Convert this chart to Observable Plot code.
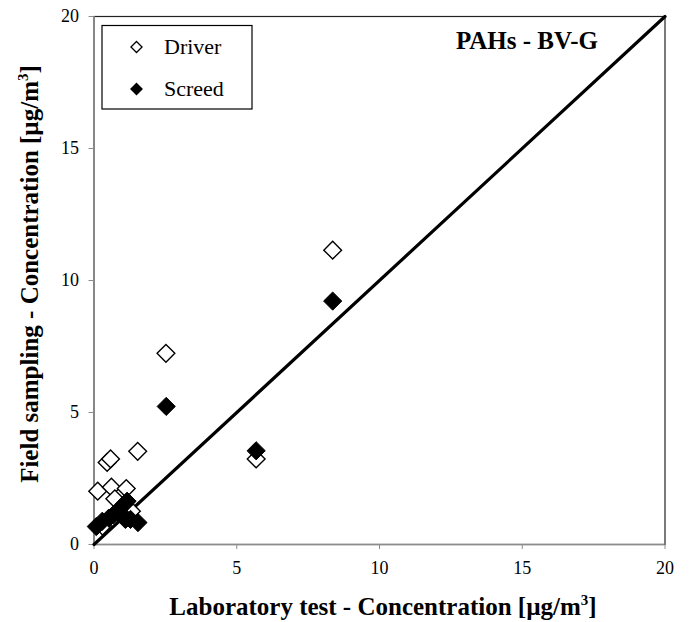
<!DOCTYPE html>
<html>
<head>
<meta charset="utf-8">
<script src="https://cdn.jsdelivr.net/npm/d3@7"></script>
<script src="https://cdn.jsdelivr.net/npm/@observablehq/plot@0.6"></script>
<style>
  body { margin: 0; background: #fff; }
  #chart { width: 690px; height: 622px; }
  svg text { font-family: "Liberation Serif", "Times New Roman", serif !important; }
</style>
</head>
<body>
<div id="chart"></div>
<script>
// ---- data ----
const driverX = [8.36, 2.52, 1.53, 0.46, 0.58, 0.13, 0.61, 1.13, 0.73, 5.68, 1.31, 0.30];
const driverY = [11.15, 7.24, 3.53, 3.11, 3.24, 2.02, 2.17, 2.12, 1.73, 3.24, 1.26, 0.70];
const screedX = [8.36, 2.53, 5.68, 0.08, 0.29, 0.52, 0.69, 0.87, 1.04, 1.16, 1.28, 1.54, 0.99, 1.10];
const screedY = [9.22, 5.23, 3.55, 0.68, 0.88, 1.00, 1.13, 1.32, 1.51, 1.64, 0.95, 0.83, 1.13, 0.95];
const lineX = [0, 20];
const lineY = [0, 20];
const tickValues = [0, 5, 10, 15, 20];
const seriesNames = ["Driver", "Screed"];
const chartTitle = "PAHs - BV-G";
const xTitle = "Laboratory test - Concentration [µg/m";
const yTitle = "Field sampling - Concentration [µg/m";

const driver = driverX.map((x, i) => ({x, y: driverY[i]}));
const screed = screedX.map((x, i) => ({x, y: screedY[i]}));
const diag = lineX.map((x, i) => ({x, y: lineY[i]}));

const W = 690, H = 622;
const mL = 93.5, mR = 25.5, mT = 16, mB = 78;
const serif = '"Liberation Serif", "Times New Roman", serif';

const plot = Plot.plot({
  width: W, height: H,
  marginLeft: mL, marginRight: mR, marginTop: mT, marginBottom: mB,
  style: {fontFamily: serif, background: "#fff"},
  x: {domain: [0, 20], ticks: tickValues},
  y: {domain: [0, 20], ticks: tickValues},
  marks: [
    Plot.frame({stroke: "#222", strokeWidth: 1.2}),
    Plot.ruleX([0], {stroke: "#8c8c8c", strokeWidth: 1.5}),
    Plot.ruleY([0], {stroke: "#8c8c8c", strokeWidth: 1.5}),
    Plot.axisX({ticks: tickValues, tickSize: 5, tickPadding: 12, stroke: "#8c8c8c", fill: "#000", fontSize: 18, fontFamily: serif, label: null, tickFormat: d => d}),
    Plot.axisY({ticks: tickValues, tickSize: 5, tickPadding: 10, stroke: "#8c8c8c", fill: "#000", fontSize: 18, fontFamily: serif, label: null, tickFormat: d => d}),
    Plot.line(diag, {x: "x", y: "y", stroke: "#000", strokeWidth: 3.2}),
    Plot.dot(driver, {x: "x", y: "y", symbol: "diamond2", r: 8, fill: "#fff", stroke: "#000", strokeWidth: 1.4}),
    Plot.dot(screed, {x: "x", y: "y", symbol: "diamond2", r: 8.2, fill: "#000", stroke: "#000", strokeWidth: 1})
  ]
});

document.getElementById("chart").appendChild(plot);
const svg = d3.select(plot);

// axis titles
const xt = svg.append("text")
  .attr("x", mL + (W - mL - mR) / 2 + 4).attr("y", 615)
  .attr("text-anchor", "middle").attr("font-size", 25).attr("font-weight", "bold")
  .attr("font-family", serif).attr("fill", "#000");
xt.append("tspan").text(xTitle);
xt.append("tspan").attr("font-size", 15).attr("dy", -10).text("3");
xt.append("tspan").attr("dy", 10).text("]");

const yt = svg.append("text")
  .attr("transform", `translate(38, ${mT + (H - mT - mB) / 2 - 6}) rotate(-90)`)
  .attr("text-anchor", "middle").attr("font-size", 25).attr("font-weight", "bold")
  .attr("font-family", serif).attr("fill", "#000");
yt.append("tspan").text(yTitle);
yt.append("tspan").attr("font-size", 15).attr("dy", -10).text("3");
yt.append("tspan").attr("dy", 10).text("]");

// chart title
svg.append("text").attr("x", 598).attr("y", 49)
  .attr("text-anchor", "end").attr("font-size", 25).attr("font-weight", "bold")
  .attr("font-family", serif).attr("fill", "#000").text(chartTitle);

// legend
const lg = svg.append("g");
lg.append("rect").attr("x", 102).attr("y", 25.5).attr("width", 150).attr("height", 83.5)
  .attr("fill", "#fff").attr("stroke", "#000").attr("stroke-width", 1.2);
const diamond = d3.symbol().type(d3.symbolDiamond2).size(Math.PI * 5 * 5);
const legendRows = [
  {name: seriesNames[0], fill: "#fff", y: 47},
  {name: seriesNames[1], fill: "#000", y: 89}
];
legendRows.forEach(r => {
  lg.append("path").attr("d", diamond()).attr("transform", `translate(136.5, ${r.y})`)
    .attr("fill", r.fill).attr("stroke", "#000").attr("stroke-width", 1.3);
  lg.append("text").attr("x", 164).attr("y", r.y + 7).attr("font-size", 22)
    .attr("text-anchor", "start").attr("font-family", serif).attr("fill", "#000").text(r.name);
});
</script>
</body>
</html>
